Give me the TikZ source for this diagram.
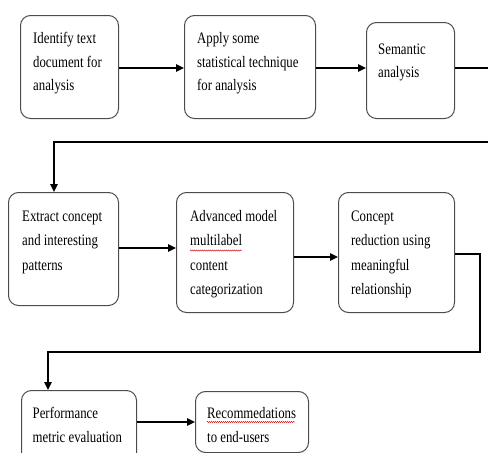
\documentclass[tikz,border=0pt]{standalone}
\usepackage{graphicx}
\usepackage{fontspec}
\setmainfont{Liberation Serif}
\usetikzlibrary{arrows.meta,calc,decorations.pathmorphing}
\newcommand{\condtxt}[1]{\scalebox{0.8}[1]{\begin{tabular}{@{}l@{}}#1\end{tabular}}}
\begin{document}
\begin{tikzpicture}[x=1pt,y=-1pt,
  box/.style={draw=black!70, line width=1pt, rounded corners=10pt, inner sep=0pt, anchor=north west},
  txt/.style={inner sep=0pt, anchor=north west, font=\fontsize{16}{23.5}\selectfont},
  txtb/.style={txt, font=\fontsize{16}{24.2}\selectfont},
  arr/.style={draw=black, line width=1.3pt, -{Triangle[length=8pt,width=7.5pt]}},
  ln/.style={draw=black, line width=1.3pt},
  wavy/.style={draw=red!80!black, line width=0.4pt, decorate, decoration={snake, amplitude=0.6pt, segment length=2pt}}
]
\useasboundingbox (0,0) rectangle (488,453);
\clip (0,0) rectangle (488,453);
% boxes
\node[box, minimum width=98pt,  minimum height=103pt] (b1) at (20,15) {};
\node[box, minimum width=131pt, minimum height=103pt] (b2) at (184,15) {};
\node[box, minimum width=88pt,  minimum height=96pt]  (b3) at (366,22) {};
\node[box, minimum width=110pt, minimum height=113pt] (b4) at (8,192) {};
\node[box, minimum width=117pt, minimum height=120pt] (b5) at (176,192) {};
\node[box, minimum width=116pt, minimum height=120pt] (b6) at (338,192) {};
\node[box, minimum width=115pt, minimum height=75pt]  (b7) at (21,390) {};
\node[box, minimum width=113pt, minimum height=61pt]  (b8) at (195,391) {};
% texts
\node[txt]  (t1) at (33,27)     {\condtxt{Identify text\\document for\\analysis}};
\node[txt]  (t2) at (197,27)    {\condtxt{Apply some\\statistical technique\\for analysis}};
\node[txt, font=\fontsize{16}{22.6}\selectfont] (t3) at (378,38.5) {\condtxt{Semantic\\analysis}};
\node[txtb] (t4) at (22,204.6)  {\condtxt{Extract concept\\and interesting\\patterns}};
\node[txtb] (t5) at (190,204.6) {\condtxt{Advanced model\\multilabel\\content\\categorization}};
\node[txtb] (t6) at (351,204.6) {\condtxt{Concept\\reduction using\\meaningful\\relationship}};
\node[txt]  (t7) at (32.5,401.9) {\condtxt{Performance\\metric evaluation}};
\node[txt]  (t8) at (207,401.9)  {\condtxt{Recommedations\\to end-users}};
% spell-check underlines
\draw[wavy] (190,250.5) -- (242,250.5);
\draw[wavy] (207,422) -- (295,422);
% coordinates for off-page connector
\coordinate (e1) at (492,68);
\coordinate (r1) at (492,142);
\coordinate (r2) at (54,142);
\coordinate (s1) at (480,254);
\coordinate (s2) at (480,352);
\coordinate (s3) at (48,352);
% connectors
\draw[arr] (b1.east |- 0,68) -- (b2.west |- 0,68);
\draw[arr] (b2.east |- 0,68) -- (b3.west |- 0,68);
\draw[ln]  (b3.east |- 0,68) -- (e1);
\draw[arr] (r1) -- (r2) -- (r2 |- b4.north);
\draw[arr] (b4.east |- 0,248) -- (b5.west |- 0,248);
\draw[arr] (b5.east |- 0,257) -- (b6.west |- 0,257);
\draw[arr] (b6.east |- s1) -- (s1) -- (s2) -- (s3) -- (s3 |- b7.north);
\draw[arr] (b7.east |- 0,422) -- (b8.west |- 0,422);
\end{tikzpicture}
\end{document}
